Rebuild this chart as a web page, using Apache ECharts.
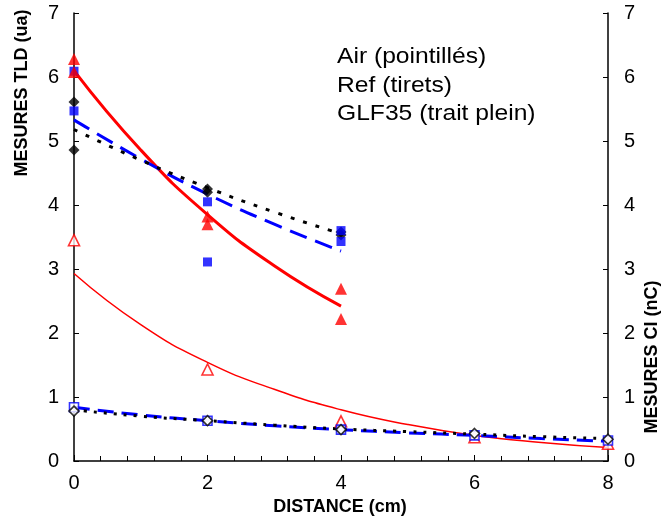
<!DOCTYPE html>
<html><head><meta charset="utf-8">
<script src="https://cdn.jsdelivr.net/npm/echarts@6/dist/echarts.min.js"></script>
<style>html,body{margin:0;padding:0;background:#fff}#c{width:661px;height:522px}</style>
</head><body><div id="c"></div>
<script>
// Measured points — TLD (left axis, filled markers)
const tldAirX = [0, 0, 2, 2, 4, 4];
const tldAirY = [5.61, 4.86, 4.25, 4.20, 3.58, 3.53];
const tldRefX = [0, 0, 2, 2, 4, 4];
const tldRefY = [6.09, 5.47, 4.05, 3.11, 3.60, 3.43];
const tldGlfX = [0, 0, 2, 2, 4, 4];
const tldGlfY = [6.28, 6.08, 3.82, 3.70, 2.69, 2.22];
// Measured points — CI (right axis, open markers)
const ciX = [0, 2, 4, 6, 8];
const ciAirY = [0.78, 0.63, 0.49, 0.43, 0.34];
const ciRefY = [0.84, 0.63, 0.49, 0.40, 0.32];
const ciGlfY = [3.45, 1.43, 0.62, 0.37, 0.27];
// Fitted curves
const fitTldX = [0, 1, 2, 3, 4];
const fitTldAir = [5.18, 4.70, 4.27, 3.89, 3.55];
const fitTldRef = [5.33, 4.72, 4.17, 3.70, 3.28];
const fitTldGlf = [6.10, 4.86, 3.85, 3.05, 2.42];
const fitCiX = [0, 1, 2, 3, 4, 5, 6, 7, 8];
const fitCiAir = [0.80, 0.70, 0.63, 0.56, 0.50, 0.46, 0.42, 0.38, 0.35];
const fitCiRef = [0.84, 0.72, 0.63, 0.55, 0.49, 0.44, 0.40, 0.35, 0.31];
const fitCiGlf = [2.93, 2.13, 1.54, 1.12, 0.80, 0.57, 0.40, 0.29, 0.21];
// Texts
const xName = 'DISTANCE (cm)';
const yLeftName = 'MESURES TLD (ua)';
const yRightName = 'MESURES CI (nC)';
const legendLines = ['Air (pointillés)', 'Ref (tirets)', 'GLF35 (trait plein)'];

const zip = (xs, ys) => xs.map((x, i) => [x, ys[i]]);
const FONT = '"Liberation Sans", Arial, sans-serif';

const chart = echarts.init(document.getElementById('c'), null, {renderer: 'canvas'});

function yAxisDef(pos) {
  return {
    type: 'value', position: pos, min: 0, max: 7, interval: 1,
    axisLine: {show: true, onZero: false, lineStyle: {color: '#000', width: 1.5}},
    axisTick: {show: true, inside: true, length: 5, lineStyle: {color: '#000', width: 1}},
    axisLabel: {color: '#000', fontSize: 20, fontFamily: FONT, margin: pos === 'left' ? 15 : 16},
    splitLine: {show: false}
  };
}

function fitLine(name, xs, ys, color, width, type, yIdx) {
  return {
    name, type: 'line', yAxisIndex: yIdx, data: zip(xs, ys), smooth: true,
    showSymbol: false, symbol: 'none', silent: true, z: 2,
    lineStyle: {color, width, type}
  };
}
function pts(name, xs, ys, symbol, size, color, yIdx, open) {
  return {
    name, type: 'scatter', yAxisIndex: yIdx, data: zip(xs, ys), symbol, symbolSize: size, z: 5,
    itemStyle: open ? {color: '#fff', borderColor: color, borderWidth: 1.6} : {color: color}
  };
}
function legendText(i, y) {
  return {type: 'text', x: 337, y: y, scaleX: 1.12,
    style: {text: legendLines[i], font: '22px ' + FONT, fill: '#000', align: 'left', verticalAlign: 'middle'}};
}

chart.setOption({
  animation: false,
  backgroundColor: '#fff',
  grid: {left: 74, right: 53, top: 13, bottom: 61, containLabel: false},
  xAxis: {
    type: 'value', min: 0, max: 8, interval: 2,
    axisLine: {show: true, onZero: false, lineStyle: {color: '#000', width: 1.5}},
    axisTick: {show: true, inside: true, length: 6, lineStyle: {color: '#000', width: 1}},
    minorTick: {show: true, splitNumber: 5, length: 5, lineStyle: {color: '#000', width: 1}},
    axisLabel: {color: '#000', fontSize: 20, fontFamily: FONT, margin: 12},
    splitLine: {show: false}
  },
  yAxis: [yAxisDef('left'), yAxisDef('right')],
  series: [
    fitLine('fitCiGlf', fitCiX, fitCiGlf, '#ff0000', 1.5, 'solid', 1),
    fitLine('fitCiRef', fitCiX, fitCiRef, '#0000ff', 3, [16, 8], 1),
    fitLine('fitCiAir', fitCiX, fitCiAir, '#000', 3, [3, 7], 1),
    fitLine('fitTldGlf', fitTldX, fitTldGlf, '#ff0000', 3, 'solid', 0),
    fitLine('fitTldRef', fitTldX, fitTldRef, '#0000ff', 3, [18, 9], 0),
    fitLine('fitTldAir', fitTldX, fitTldAir, '#000', 3, [4, 9], 0),
    pts('ciGlf', ciX, ciGlfY, 'triangle', 11, '#ff0000', 1, true),
    pts('ciRef', ciX, ciRefY, 'rect', 9, '#0000ff', 1, true),
    pts('ciAir', ciX, ciAirY, 'diamond', 10, '#000', 1, true),
    pts('tldAir', tldAirX, tldAirY, 'diamond', 11, '#000', 0, false),
    pts('tldRef', tldRefX, tldRefY, 'rect', 9, '#0000ff', 0, false),
    pts('tldGlf', tldGlfX, tldGlfY, 'triangle', 12, '#ff0000', 0, false)
  ],
  graphic: [
    {type: 'text', x: 340, y: 507, style: {text: xName, font: 'bold 18px ' + FONT, fill: '#000', align: 'center', verticalAlign: 'middle'}},
    {type: 'text', x: 22, y: 93, rotation: Math.PI / 2, style: {text: yLeftName, font: 'bold 18px ' + FONT, fill: '#000', align: 'center', verticalAlign: 'middle'}},
    {type: 'text', x: 652, y: 357, rotation: Math.PI / 2, style: {text: yRightName, font: 'bold 18px ' + FONT, fill: '#000', align: 'center', verticalAlign: 'middle'}},
    legendText(0, 57),
    legendText(1, 86),
    legendText(2, 114)
  ]
});
</script>
</body></html>
